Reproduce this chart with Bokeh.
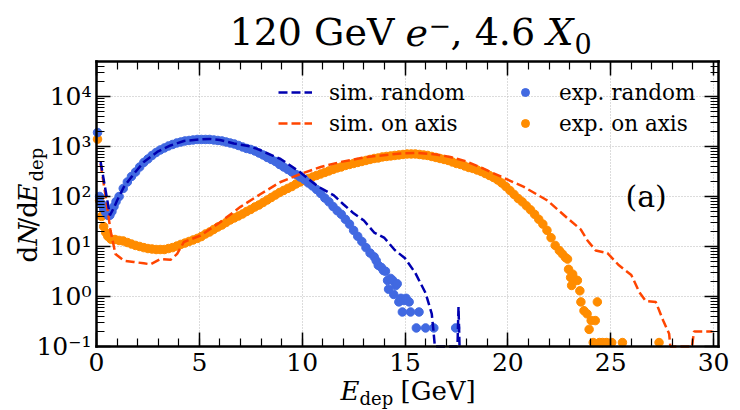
import numpy as np
from bokeh.plotting import figure
from bokeh.models import (Range1d, LinearAxis, LogAxis, FixedTicker, Label, Grid,
                          Legend, LegendItem, CustomJSTickFormatter)
from bokeh.embed import file_html
from bokeh.resources import INLINE

FONT = "DejaVu Serif"

# ---------------- axes / ticks ----------------
X_TICKS = [0, 5, 10, 15, 20, 25, 30]
X_TICK_LABELS = ["0", "5", "10", "15", "20", "25", "30"]
Y_TICKS = [0.1, 1, 10, 100, 1000, 10000]
Y_TICK_LABELS = ["10⁻¹", "10⁰", "10¹", "10²", "10³", "10⁴"]
X_LIM = (0.0, 30.24)
Y_LIM = (0.1, 5e4)

# ---------------- data ----------------
# experiment, random orientation (E_dep [GeV], dN/dE_dep)
EXP_RANDOM_E = [0.05, 0.15, 0.25, 0.35, 0.45, 0.55, 0.65, 0.75, 0.85, 0.95,
                1.1, 1.3, 1.5, 1.7, 1.9, 2.1, 2.3, 2.5, 2.7, 2.9,
                3.1, 3.3, 3.5, 3.7, 3.9, 4.1, 4.3, 4.5, 4.7, 4.9,
                5.1, 5.3, 5.5, 5.7, 5.9, 6.1, 6.3, 6.5, 6.7, 6.9,
                7.1, 7.3, 7.5, 7.7, 7.9, 8.1, 8.3, 8.5, 8.7, 8.9,
                9.1, 9.3, 9.5, 9.7, 9.9, 10.1, 10.3, 10.5, 10.7, 10.9,
                11.1, 11.3, 11.5, 11.7, 11.9, 12.1, 12.3, 12.5, 12.7, 12.9,
                13.1, 13.3, 13.5, 13.6, 13.7, 13.85, 13.95, 14.05, 14.15, 14.2,
                14.3, 14.4, 14.45, 14.55, 14.62, 14.7, 14.8, 14.87, 14.95, 15.05,
                15.2, 15.27, 15.55, 15.68, 16.0, 16.4, 17.46]
EXP_RANDOM_N = [1900, 100, 71, 56, 48, 42, 42, 50, 63, 79,
                100, 145, 195, 251, 309, 389, 479, 562, 661, 759,
                851, 933, 1023, 1096, 1175, 1230, 1288, 1318, 1349, 1380,
                1380, 1380, 1380, 1349, 1318, 1288, 1230, 1175, 1122, 1047,
                977, 912, 871, 813, 741, 676, 603, 550, 501, 437,
                389, 347, 309, 275, 245, 219, 186, 162, 138, 115,
                93, 78, 63, 52, 44, 35, 28, 21, 16, 12.6,
                9.5, 7.4, 6.2, 5.2, 4.2, 3.8, 3.3, 3.2, 2.1, 1.4,
                2.3, 2.1, 1.1, 1.65, 1.8, 0.78, 0.92, 0.49, 0.83, 0.92,
                0.78, 0.49, 0.235, 0.49, 0.235, 0.235, 0.235]

# experiment, on axis
EXP_AXIS_E = [0.05, 0.15, 0.25, 0.35, 0.45, 0.55, 0.7, 0.9,
              1.1, 1.3, 1.5, 1.7, 1.9, 2.1, 2.3, 2.5, 2.7, 2.9,
              3.1, 3.3, 3.5, 3.7, 3.9, 4.1, 4.3, 4.5, 4.7, 4.9,
              5.1, 5.3, 5.5, 5.7, 5.9, 6.1, 6.3, 6.5, 6.7, 6.9,
              7.1, 7.3, 7.5, 7.7, 7.9, 8.1, 8.3, 8.5, 8.7, 8.9,
              9.1, 9.3, 9.5, 9.7, 9.9, 10.1, 10.3, 10.5, 10.7, 10.9,
              11.1, 11.3, 11.5, 11.7, 11.9, 12.1, 12.3, 12.5, 12.7, 12.9,
              13.1, 13.3, 13.5, 13.7, 13.9, 14.1, 14.3, 14.5, 14.7, 14.9,
              15.1, 15.3, 15.5, 15.7, 15.9, 16.1, 16.3, 16.5, 16.7, 16.9,
              17.1, 17.3, 17.5, 17.7, 17.9, 18.1, 18.3, 18.5, 18.7, 18.9,
              19.1, 19.3, 19.5, 19.7, 19.9, 20.1, 20.3, 20.5, 20.7, 20.9,
              21.1, 21.3, 21.5, 21.7, 21.9, 22.1, 22.3, 22.5,
              22.65, 22.8, 22.9, 22.95, 23.05, 23.1, 23.15, 23.25, 23.38, 23.5,
              23.55, 23.7, 23.85, 23.95, 24.05, 24.15, 24.25, 24.35, 24.45, 24.6,
              24.8, 25.05, 25.57, 27.35]
EXP_AXIS_N = [1400, 83, 40, 25, 19, 16, 14, 13.8,
              13.2, 12.9, 12, 11.2, 10.5, 10, 9.5, 9.1, 8.9, 8.7,
              8.7, 8.7, 9.1, 9.5, 10.2, 11, 11.7, 12.6, 13.5, 14.5,
              15.8, 17.8, 19.5, 21.9, 24.5, 26.9, 30.2, 33.9, 37.2, 40.7,
              44.7, 50.1, 55, 61.7, 67.6, 75.9, 85.1, 95.5, 107, 120,
              132, 145, 158, 178, 195, 209, 229, 245, 263, 282,
              302, 324, 347, 372, 389, 417, 437, 457, 479, 501,
              525, 550, 575, 589, 617, 631, 646, 661, 676, 692,
              708, 708, 708, 692, 676, 661, 631, 603, 575, 550,
              525, 490, 457, 437, 407, 380, 363, 339, 316, 288,
              263, 240, 214, 186, 158, 132, 110, 91, 78, 65,
              54, 44, 35, 28, 21, 15, 10.5, 8.3,
              7.1, 6.0, 5.6, 3.5, 2.4, 1.66, 2.8, 2.2, 2.1, 1.3,
              0.78, 0.52, 0.45, 0.22, 0.33, 0.12, 0.33, 0.78, 0.12, 0.12,
              0.12, 0.12, 0.12, 0.12]

# simulation, random orientation (0 = empty bin)
SIM_RANDOM_E = [0.2, 0.45, 0.65, 0.85, 1.0, 1.33, 1.81, 2.3, 2.95, 3.6,
                4.25, 5.0, 5.5, 6.0, 6.68, 7.5, 7.98, 8.95, 9.92, 10.73,
                11.54, 12.0, 12.5, 13.0, 13.5, 14.0, 14.5, 15.0, 15.5, 16.0,
                16.3, 16.38, 16.45, 17.55, 17.6, 17.65]
SIM_RANDOM_N = [490, 126, 42, 60, 83, 155, 282, 490, 776, 1047,
                1288, 1380, 1413, 1349, 1148, 1000, 832, 562, 302, 162,
                105, 70, 46, 33, 19, 14.8, 8.5, 5.8, 2.95, 1.17,
                0.45, 0.21, 0, 0, 0.62, 0]

# simulation, on axis
SIM_AXIS_E = [0.2, 0.45, 0.68, 0.92, 1.33, 1.81, 2.3, 2.63, 3.11, 3.6,
              3.92, 4.25, 5.06, 6.03, 7.0, 7.98, 8.95, 9.92, 10.9, 11.87,
              13.17, 14.79, 15.6, 16.5, 17.2, 18.0, 18.84, 19.65, 20.78, 21.92,
              22.89, 23.54, 23.87, 24.27, 24.84, 25.4, 26.0, 26.4, 26.7, 27.19,
              27.55, 27.84, 27.9, 28.95, 29.05, 29.95]
SIM_AXIS_N = [450, 97, 21, 7.1, 5.2, 4.9, 4.6, 4.4, 5.6, 5.4,
              7.1, 12.3, 16.6, 31, 62, 112, 195, 282, 389, 490,
              617, 724, 741, 692, 617, 501, 355, 251, 155, 83,
              37, 22, 13.2, 8.3, 7.4, 4.2, 2.7, 1.2, 0.81, 0.78,
              0.33, 0.18, 0, 0, 0.2, 0.2]


def floor0(v):
    # empty bins are drawn down to the bottom of the axis, as on a log scale
    v = np.asarray(v, dtype=float)
    return np.where(v > 0, v, Y_LIM[0])


# ---------------- layout (pixels) ----------------
W, H = 740, 410
BOX_L, BOX_R, BOX_T, BOX_B = 96, 718, 61, 346   # plot box inside the canvas

ppx = (BOX_R - BOX_L) / (X_LIM[1] - X_LIM[0])
xr = Range1d(X_LIM[0] - BOX_L / ppx, X_LIM[1] + (W - BOX_R) / ppx)
ly0, ly1 = np.log10(Y_LIM[0]), np.log10(Y_LIM[1])
dpp = (ly1 - ly0) / (BOX_B - BOX_T)
yr = Range1d(10 ** (ly0 - (H - BOX_B) * dpp), 10 ** (ly1 + BOX_T * dpp))

p = figure(width=W, height=H, y_axis_type="log", x_range=xr, y_range=yr,
           output_backend="svg", toolbar_location=None,
           min_border=0, min_border_left=0, min_border_right=0,
           min_border_top=0, min_border_bottom=0)
p.background_fill_color = "white"
p.border_fill_color = "white"
p.outline_line_color = None

x_minor = [float(i) for i in range(0, 31)]
y_minor = [m * 10.0 ** d for d in range(-1, 5) for m in range(2, 10) if m * 10.0 ** d < Y_LIM[1]]
xt = FixedTicker(ticks=X_TICKS, minor_ticks=x_minor)
yt = FixedTicker(ticks=Y_TICKS, minor_ticks=y_minor)

xfmt = CustomJSTickFormatter(args=dict(tv=X_TICKS, tl=X_TICK_LABELS), code="""
let b = 0, bd = Infinity;
for (let i = 0; i < tv.length; i++) { const d = Math.abs(tick - tv[i]); if (d < bd) { bd = d; b = i; } }
return tl[b];""")
yfmt = CustomJSTickFormatter(args=dict(tv=Y_TICKS, tl=Y_TICK_LABELS), code="""
let b = 0, bd = Infinity;
for (let i = 0; i < tv.length; i++) { const d = Math.abs(Math.log10(tick) - Math.log10(tv[i])); if (d < bd) { bd = d; b = i; } }
return tl[b];""")
blank = CustomJSTickFormatter(code="return '';")


def style_axis(ax, ticker, fmt, standoff, loc, bounds):
    ax.ticker = ticker
    ax.formatter = fmt
    ax.fixed_location = loc
    ax.bounds = bounds
    ax.axis_line_color = "black"
    ax.axis_line_width = 2.5
    ax.axis_line_cap = "square"
    ax.major_tick_in = 14
    ax.major_tick_out = 0
    ax.minor_tick_in = 8
    ax.minor_tick_out = 0
    ax.major_tick_line_width = 1.5
    ax.minor_tick_line_width = 1.2
    ax.major_tick_line_color = "black"
    ax.minor_tick_line_color = "black"
    ax.major_label_text_font = FONT
    ax.major_label_text_font_size = "25px"
    ax.major_label_text_color = "black"
    ax.major_label_standoff = standoff


style_axis(p.xaxis[0], xt, xfmt, 6, Y_LIM[0], X_LIM)
style_axis(p.yaxis[0], yt, yfmt, 5, X_LIM[0], Y_LIM)
top = LinearAxis()
style_axis(top, xt, blank, 0, Y_LIM[1], X_LIM)
right = LogAxis()
style_axis(right, yt, blank, 0, X_LIM[1], Y_LIM)
p.add_layout(top, "above")
p.add_layout(right, "right")

GRID_COLOR = "#b8b8b8"
if "cross_bounds" in Grid.properties():
    p.xgrid.ticker = xt
    p.ygrid.ticker = yt
    p.xgrid.cross_bounds = Y_LIM
    p.ygrid.cross_bounds = X_LIM
    for g in (p.xgrid[0], p.ygrid[0]):
        g.grid_line_color = GRID_COLOR
        g.grid_line_dash = "1 2"
        g.grid_line_width = 1
else:
    p.xgrid.visible = False
    p.ygrid.visible = False
    p.segment(x0=X_TICKS, x1=X_TICKS, y0=[Y_LIM[0]] * len(X_TICKS), y1=[Y_LIM[1]] * len(X_TICKS),
              line_color=GRID_COLOR, line_dash="1 2", line_width=1)
    p.segment(x0=[X_LIM[0]] * len(Y_TICKS), x1=[X_LIM[1]] * len(Y_TICKS), y0=Y_TICKS, y1=Y_TICKS,
              line_color=GRID_COLOR, line_dash="1 2", line_width=1)

# ---------------- series ----------------
C_SIM_R = "#0000b0"
C_SIM_A = "#ff4500"
C_EXP_R = "#4169e1"
C_EXP_A = "#ff8c00"

r_exp_a = p.scatter(EXP_AXIS_E, EXP_AXIS_N, size=8.5, color=C_EXP_A)
r_exp_r = p.scatter(EXP_RANDOM_E, EXP_RANDOM_N, size=8.5, color=C_EXP_R)
r_sim_a = p.line(SIM_AXIS_E, floor0(SIM_AXIS_N), color=C_SIM_A, line_width=2.5, line_dash="9 4")
r_sim_r = p.line(SIM_RANDOM_E, floor0(SIM_RANDOM_N), color=C_SIM_R, line_width=2.5, line_dash="9 4")


def make_legend(items, loc):
    return Legend(items=items, location=loc, orientation="vertical",
                  glyph_width=34, glyph_height=20, label_height=20,
                  spacing=6, padding=0, margin=0, label_standoff=17,
                  border_line_alpha=0, background_fill_alpha=0,
                  label_text_font=FONT, label_text_font_size="21.5px",
                  label_text_color="black")


p.add_layout(make_legend([LegendItem(label="sim. random", renderers=[r_sim_r]),
                          LegendItem(label="sim. on axis", renderers=[r_sim_a])], (278, 274.5)))
p.add_layout(make_legend([LegendItem(label="exp. random", renderers=[r_exp_r]),
                          LegendItem(label="exp. on axis", renderers=[r_exp_a])], (508, 274.5)))


# ---------------- texts (canvas pixels, y measured up from the bottom) ----------------
BASELINE_FIX = 0.4  # renderer places the alphabetic baseline ~0.4 em low


def txt(fx, fy, s, size, style="normal", angle=0.0):
    d = BASELINE_FIX * size
    p.add_layout(Label(x=fx - np.sin(angle) * d, y=fy + np.cos(angle) * d,
                       x_units="screen", y_units="screen", text=s,
                       text_font=FONT, text_font_size=f"{size}px",
                       text_font_style=style, angle=angle, text_color="black",
                       text_baseline="alphabetic", text_align="left"))


# title: 120 GeV e^-, 4.6 X_0
txt(229, 363, "120 GeV", 38)
txt(405, 363, "e", 38, "italic")
txt(428, 375, "−", 27)
txt(450, 363, ", 4.6", 38)
txt(546, 363, "X", 38, "italic")
txt(574, 356, "0", 27)

# y label: dN/dE_dep
A = np.pi / 2
txt(38, 148, "d", 26, angle=A)
txt(38, 165, "N", 26, "italic", angle=A)
txt(38, 184, "/d", 26, angle=A)
txt(38, 208, "E", 26, "italic", angle=A)
txt(43.5, 229, "dep", 18, angle=A)

# x label: E_dep [GeV]
txt(340, 9, "E", 26, "italic")
txt(359, 5, "dep", 18)
txt(400, 9, "[GeV]", 26)

# panel tag
txt(625, 202.5, "(a)", 30)

open("out.html", "w").write(file_html(p, INLINE))
